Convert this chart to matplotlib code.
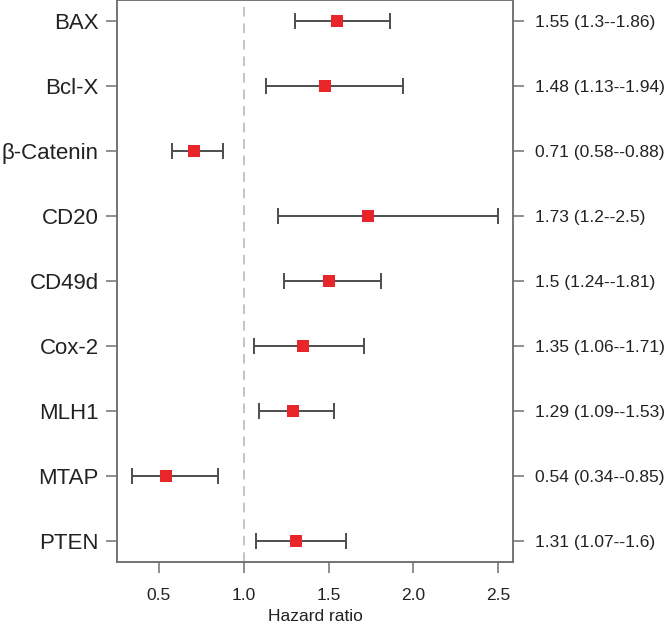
import matplotlib
matplotlib.use("Agg")
import matplotlib.pyplot as plt
import numpy as np

plt.rcParams['font.family'] = ['Liberation Sans', 'DejaVu Sans']

# Data
markers = ["BAX", "Bcl-X", "β-Catenin", "CD20", "CD49d", "Cox-2", "MLH1", "MTAP", "PTEN"]
hr = [1.55, 1.48, 0.71, 1.73, 1.5, 1.35, 1.29, 0.54, 1.31]
lower = [1.3, 1.13, 0.58, 1.2, 1.24, 1.06, 1.09, 0.34, 1.07]
upper = [1.86, 1.94, 0.88, 2.5, 1.81, 1.71, 1.53, 0.85, 1.6]
x_ticks = [0.5, 1.0, 1.5, 2.0, 2.5]

hr = np.array(hr)
lower = np.array(lower)
upper = np.array(upper)
y = np.arange(len(markers))[::-1] + 1

fig = plt.figure(figsize=(6.71, 6.26), dpi=100)
ax = fig.add_axes([0.1744, 0.1022, 0.5901, 0.8978])

spine_col = "#707070"
bar_col = "#4d4d4d"
small = 12.5

# Reference line at HR = 1
ax.axvline(1.0, color="#c4c4c4", lw=1.4, ls=(0, (5, 3.5)), zorder=1)

# Confidence intervals and point estimates
ax.errorbar(hr, y, xerr=[hr - lower, upper - hr], fmt="none",
            ecolor=bar_col, elinewidth=1.4, capsize=5.8, capthick=1.4, zorder=2)
ax.plot(hr, y, "s", color="#e8262a", markersize=8.8, markeredgewidth=0, zorder=3)

# Axis limits like R's default 4% expansion
x_lo, x_hi = lower.min(), upper.max()
dx = (x_hi - x_lo) * 0.04
ax.set_xlim(x_lo - dx, x_hi + dx)
ax.set_ylim(1 - 0.32, len(markers) + 0.32)

ax.set_xticks(x_ticks)
ax.set_xticklabels([f"{t:.1f}" for t in x_ticks], fontsize=small, color="#222222")
ax.set_xlabel("Hazard ratio", fontsize=small, color="#222222", labelpad=4)

ax.set_yticks(y)
ax.set_yticklabels(markers, fontsize=16, color="#222222")

# Right-hand labels with HR (CI)
right_labels = [f"{h:g} ({l:g}--{u:g})" for h, l, u in zip(hr, lower, upper)]
ax2 = ax.twinx()
ax2.set_ylim(ax.get_ylim())
ax2.set_yticks(y)
ax2.set_yticklabels(right_labels, fontsize=small, color="#222222")

for a in (ax, ax2):
    for s in a.spines.values():
        s.set_color(spine_col)
        s.set_linewidth(1.1)
    a.tick_params(length=8, width=1.1, color=spine_col)
ax.tick_params(axis="y", pad=5)
ax.tick_params(axis="x", pad=11)
ax2.tick_params(axis="y", pad=8)

fig.savefig("out.png", dpi=100)
